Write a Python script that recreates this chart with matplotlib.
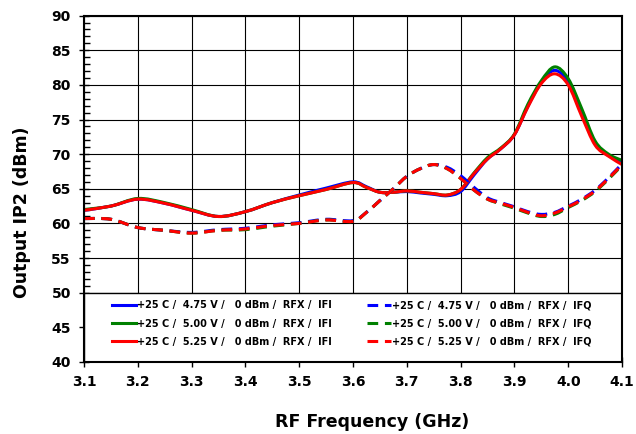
import numpy as np
import matplotlib
matplotlib.use("Agg")
import matplotlib.pyplot as plt
from matplotlib.ticker import MultipleLocator
from matplotlib.path import Path
from matplotlib.patches import PathPatch, Rectangle
from matplotlib.lines import Line2D

# frequency points (GHz)
freq = [3.10, 3.15, 3.20, 3.25, 3.30, 3.35, 3.40, 3.45, 3.50, 3.55, 3.60,
        3.625, 3.65, 3.675, 3.70, 3.725, 3.75, 3.775, 3.80, 3.825, 3.85,
        3.875, 3.90, 3.925, 3.95, 3.975, 4.00, 4.025, 4.05, 4.075, 4.10]

# IFI (solid)
ifi_475 = [61.9, 62.5, 63.5, 62.9, 61.9, 61.0, 61.7, 63.0, 64.1, 65.1, 66.0,
           65.3, 64.5, 64.5, 64.6, 64.4, 64.2, 64.0, 64.6, 67.0, 69.3,
           70.8, 72.8, 76.9, 80.4, 82.1, 80.4, 76.0, 71.5, 69.8, 68.8]
ifi_500 = [62.0, 62.5, 63.6, 63.0, 62.0, 61.0, 61.7, 63.0, 64.0, 64.9, 65.9,
           65.2, 64.5, 64.5, 64.7, 64.5, 64.3, 64.1, 64.9, 67.3, 69.5,
           70.9, 72.9, 77.2, 80.6, 82.6, 80.9, 76.6, 71.9, 70.0, 69.1]
ifi_525 = [61.9, 62.5, 63.5, 62.9, 61.9, 61.0, 61.7, 63.0, 64.0, 64.9, 65.9,
           65.2, 64.5, 64.5, 64.7, 64.5, 64.3, 64.1, 64.9, 67.2, 69.3,
           70.8, 72.8, 76.8, 80.2, 81.6, 80.0, 75.5, 71.3, 69.7, 68.5]

# IFQ (dashed)
ifq_475 = [60.7, 60.6, 59.4, 59.0, 58.7, 59.1, 59.3, 59.8, 60.1, 60.6, 60.4,
           61.6, 63.3, 65.0, 66.8, 67.9, 68.5, 68.1, 66.9, 65.2, 63.7,
           63.0, 62.4, 61.7, 61.3, 61.6, 62.5, 63.5, 64.8, 66.6, 68.6]
ifq_500 = [60.7, 60.6, 59.4, 59.0, 58.6, 59.0, 59.1, 59.6, 60.0, 60.5, 60.3,
           61.6, 63.3, 65.0, 66.8, 67.9, 68.5, 67.9, 66.5, 64.8, 63.5,
           62.8, 62.2, 61.5, 61.0, 61.3, 62.3, 63.3, 64.6, 66.4, 68.4]
ifq_525 = [60.7, 60.6, 59.4, 59.0, 58.6, 59.0, 59.2, 59.7, 60.0, 60.5, 60.3,
           61.6, 63.3, 65.0, 66.8, 67.9, 68.5, 67.9, 66.5, 64.8, 63.5,
           62.9, 62.3, 61.6, 61.1, 61.5, 62.4, 63.4, 64.7, 66.5, 68.5]

labels_ifi = ["+25 C /  4.75 V /   0 dBm /  RFX /  IFI",
              "+25 C /  5.00 V /   0 dBm /  RFX /  IFI",
              "+25 C /  5.25 V /   0 dBm /  RFX /  IFI"]
labels_ifq = ["+25 C /  4.75 V /   0 dBm /  RFX /  IFQ",
              "+25 C /  5.00 V /   0 dBm /  RFX /  IFQ",
              "+25 C /  5.25 V /   0 dBm /  RFX /  IFQ"]
colors = ["#0000ff", "#008000", "#ff0000"]

LW = 2.2
DASH = (0, (3.5, 2.2))


def smooth_path(x, y):
    # Excel-style smoothed line: Catmull-Rom segments as cubic Bezier curves
    p = np.column_stack([x, y]).astype(float)
    ext = np.vstack([p[0], p, p[-1]])
    verts = [p[0]]
    codes = [Path.MOVETO]
    for i in range(len(p) - 1):
        p0, p1, p2, p3 = ext[i], ext[i + 1], ext[i + 2], ext[i + 3]
        verts += [p1 + (p2 - p0) / 6, p2 - (p3 - p1) / 6, p2]
        codes += [Path.CURVE4] * 3
    return Path(verts, codes)


plt.rcParams['font.family'] = ['DejaVu Sans']
plt.rcParams['font.weight'] = 'bold'

fig = plt.figure(figsize=(6.36, 4.34), dpi=100)
ax = fig.add_axes([0.132, 0.166, 0.846, 0.798])

handles = []
for ys, c, lab in zip([ifi_475, ifi_500, ifi_525], colors, labels_ifi):
    ax.add_patch(PathPatch(smooth_path(freq, ys), fill=False, ec=c, lw=LW,
                           capstyle='round', joinstyle='round', zorder=3))
    handles.append(Line2D([], [], color=c, lw=LW, label=lab))
for ys, c, lab in zip([ifq_475, ifq_500, ifq_525], colors, labels_ifq):
    ax.add_patch(PathPatch(smooth_path(freq, ys), fill=False, ec=c, lw=LW,
                           ls=DASH, zorder=3))
    handles.append(Line2D([], [], color=c, lw=LW, ls=DASH, label=lab))

ax.set_xlim(3.1, 4.1)
ax.set_ylim(40, 90)
ax.xaxis.set_major_locator(MultipleLocator(0.1))
ax.xaxis.set_minor_locator(MultipleLocator(0.05))
ax.yaxis.set_major_locator(MultipleLocator(5))
ax.yaxis.set_minor_locator(MultipleLocator(1))
ax.xaxis.set_major_formatter(plt.FuncFormatter(lambda v, p: f"{v:.1f}"))
ax.grid(True, which='major', color='black', lw=0.8)
ax.tick_params(which='major', direction='inout', length=7, width=1,
               labelsize=10, pad=6)
ax.tick_params(which='minor', direction='in', length=4, width=1)
for lab in ax.get_xticklabels() + ax.get_yticklabels():
    lab.set_fontweight('bold')
for s in ax.spines.values():
    s.set_linewidth(1.5)
    s.set_zorder(6)

ax.set_xlabel("RF Frequency (GHz)", fontsize=12.5, fontweight='bold')
ax.set_ylabel("Output IP2 (dBm)", fontsize=12.5, fontweight='bold')
ax.xaxis.set_label_coords(0.535, -0.148)
ax.yaxis.set_label_coords(-0.099, 0.433)

# white legend box covering the bottom band of the plot (40..50 dBm)
ax.add_patch(Rectangle((0, 0), 1, 0.2, transform=ax.transAxes, fc='white',
                       ec='black', lw=1.0, zorder=4))
leg = ax.legend(handles, [h.get_label() for h in handles], ncol=2,
                loc='upper left', bbox_to_anchor=(0.052, 0.178),
                prop={'size': 7, 'weight': 'bold'}, frameon=False,
                handlelength=2.5, handletextpad=0.1, borderpad=0,
                labelspacing=0.85, columnspacing=3.6, borderaxespad=0)
leg.set_zorder(5)

fig.savefig("out.png", dpi=100)
